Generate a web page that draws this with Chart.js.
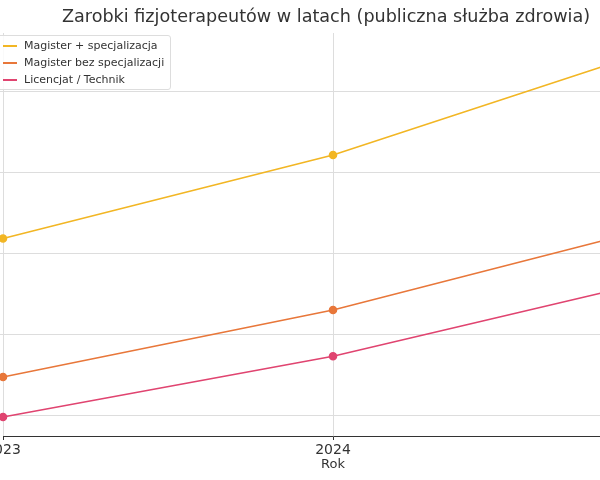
<!DOCTYPE html>
<html>
<head>
<meta charset="utf-8">
<script src="https://cdn.jsdelivr.net/npm/chart.js@4"></script>
<style>
  body { margin: 0; background: #fff; }
  #wrap { position: relative; width: 600px; height: 480px; overflow: hidden; font-family: "DejaVu Sans", sans-serif; }
  #c { position: absolute; left: -70px; top: 0; }
  #title { position: absolute; top: 6px; left: 62px; white-space: nowrap; font-size: 17.6px; color: #333; }
  #legend { position: absolute; left: -6px; top: 35px; border: 1px solid #ddd; border-radius: 3px; background: rgba(255,255,255,0.85); padding: 1px 6px 1px 8px; font-size: 11px; color: #333; }
  #legend div { height: 17px; line-height: 17px; white-space: nowrap; }
  #legend span { display: inline-block; width: 14px; height: 2px; vertical-align: middle; margin-right: 7px; }
</style>
</head>
<body>
<div id="wrap">
  <canvas id="c" width="760" height="480"></canvas>
  <div id="title">Zarobki fizjoterapeutów w latach (publiczna służba zdrowia)</div>
  <div id="legend"></div>
</div>
<script>
const years = ['2023', '2024', '2025'];
const seriesNames = ['Magister + specjalizacja', 'Magister bez specjalizacji', 'Licencjat / Technik'];
const magSpec = [7185, 8220, 9560];
const magBez = [5470, 6300, 7350];
const licencjat = [4975, 5728, 6690];
const yTicks = [5000, 6000, 7000, 8000, 9000];
const colors = ['#f2b624', '#e8773a', '#e04470'];

const values = [magSpec, magBez, licencjat];
const legend = document.getElementById('legend');
seriesNames.forEach((n, i) => {
  const d = document.createElement('div');
  d.innerHTML = '<span style="background:' + colors[i] + '"></span>' + n;
  legend.appendChild(d);
});

new Chart(document.getElementById('c'), {
  type: 'line',
  data: {
    labels: years,
    datasets: seriesNames.map((n, i) => ({
      label: n,
      data: values[i],
      borderColor: colors[i],
      backgroundColor: colors[i],
      borderWidth: 1.6,
      pointRadius: 3.5,
      tension: 0
    }))
  },
  options: {
    responsive: false,
    animation: false,
    layout: { padding: { top: 33, right: 27, left: 0, bottom: 8 } },
    plugins: { legend: { display: false }, title: { display: false }, tooltip: { enabled: false } },
    scales: {
      x: {
        offset: false,
        grid: { color: '#ddd', tickColor: '#333', tickLength: 4 },
        border: { color: '#333' },
        ticks: { color: '#333', padding: 2, font: { size: 14, family: 'DejaVu Sans' } },
        title: { display: true, text: 'Rok', color: '#333', font: { size: 13, family: 'DejaVu Sans' }, padding: 0 },
        afterFit: s => { s.height = 36; }
      },
      y: {
        min: 4740,
        max: 9730,
        afterBuildTicks: s => { s.ticks = yTicks.map(v => ({ value: v })); },
        grid: { color: '#ddd' },
        border: { display: false },
        ticks: { color: '#333', font: { size: 12 } },
        afterFit: s => { s.width = 73; }
      }
    }
  }
});
</script>
</body>
</html>
